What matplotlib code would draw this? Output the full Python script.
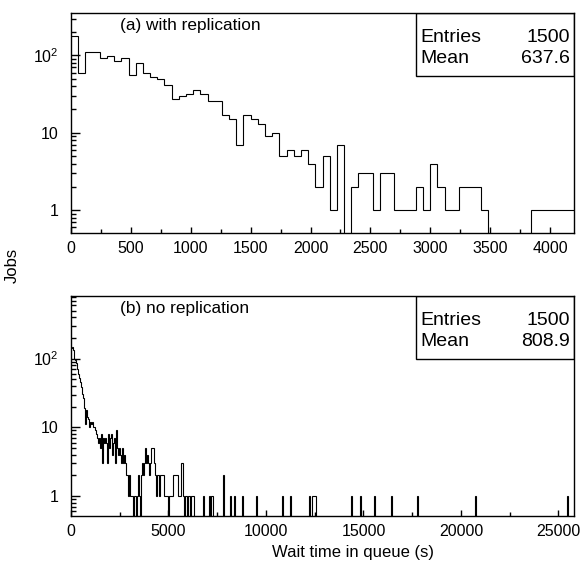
import numpy as np
import matplotlib.pyplot as plt
from matplotlib.patches import Rectangle
from matplotlib.ticker import FixedLocator, FixedFormatter, MultipleLocator, LogLocator, NullFormatter

plt.rcParams['font.family'] = ['Liberation Sans', 'DejaVu Sans']

# (a) with replication: 70 bins of 60 s, 0 .. 4200 s
a_bin_width = 60
a_counts = [180, 59, 110, 110, 92, 97, 85, 92, 56, 79,
            60, 53, 50, 41, 27, 30, 32, 36, 32, 26,
            26, 17, 15, 7, 17, 15, 13, 9, 10, 5,
            6, 5, 6, 4, 2, 5, 1, 7, 0, 2,
            3, 3, 1, 3, 3, 1, 1, 1, 2, 1,
            4, 2, 1, 1, 2, 2, 2, 1, 0, 0,
            0, 0, 0, 0, 1, 1, 1, 1, 1, 1]
a_entries = 1500
a_mean = 637.6

# (b) no replication: 500 bins of 51.6 s, 0 .. 25800 s
b_bin_width = 51.6
b_nbins = 500
# first bins, read one by one
b_head = [145, 150, 135, 100, 95, 85, 70, 60, 52, 45,
          38, 31, 27, 19, 11, 18, 14, 13, 10, 12,
          11, 12, 10, 10, 9, 8, 7, 6, 7, 5,
          8, 3, 7, 6, 7, 6, 3, 8, 5, 7,
          8, 4, 6, 7, 3, 9, 5, 4, 5, 4,
          3, 5, 3, 4, 3, 2, 2, 1, 2, 1,
          1, 1, 0, 1, 1, 0, 1, 2, 1, 0,
          2, 3, 2, 3, 5, 3, 4, 3, 2, 3,
          5, 5, 3, 2, 1, 2, 2, 1, 2, 2,
          2, 2, 1, 1, 1, 1, 0, 1, 1, 1,
          1, 2, 2, 2, 2, 2, 1, 1, 1, 3,
          3, 1, 0, 1, 1, 0, 1, 1, 0, 1,
          1, 1]
# isolated bins further out (bin index: count)
b_tail = {131: 1, 137: 1, 139: 1, 140: 1, 151: 2, 158: 1, 162: 1, 170: 1,
          184: 1, 210: 1, 218: 1, 237: 1, 240: 1, 241: 1, 242: 1, 243: 1,
          278: 1, 287: 1, 301: 1, 318: 1, 344: 1, 402: 1, 493: 1}
b_entries = 1500
b_mean = 808.9

a_edges = np.arange(len(a_counts) + 1) * a_bin_width
b_counts = np.zeros(b_nbins)
b_counts[:len(b_head)] = b_head
for k, v in b_tail.items():
    b_counts[k] = v
b_edges = np.arange(b_nbins + 1) * b_bin_width

fig = plt.figure(figsize=(5.84, 5.67), dpi=100)
ax1 = fig.add_axes([0.1216, 0.589, 0.8613, 0.388])
ax2 = fig.add_axes([0.1216, 0.0899, 0.8613, 0.388])


def draw(ax, counts, edges, ylim, label, entries, mean, major, minor):
    c = np.where(np.asarray(counts) > 0, counts, 0.01)
    ax.stairs(c, edges, baseline=None, color='black', lw=0.8)
    ax.set_yscale('log')
    ax.set_xlim(edges[0], edges[-1])
    ax.set_ylim(*ylim)
    ax.yaxis.set_major_locator(FixedLocator([1, 10, 100]))
    ax.yaxis.set_major_formatter(FixedFormatter(['1', '10', r'$\mathregular{10^{2}}$']))
    ax.yaxis.set_minor_locator(LogLocator(base=10, subs=np.arange(2, 10)))
    ax.yaxis.set_minor_formatter(NullFormatter())
    ax.xaxis.set_major_locator(MultipleLocator(major))
    ax.xaxis.set_minor_locator(MultipleLocator(minor))
    ax.tick_params(axis='both', which='both', direction='in', top=False, right=False,
                   labelsize=11.5, width=1)
    ax.tick_params(axis='y', which='major', length=6.5, pad=9)
    ax.tick_params(axis='y', which='minor', length=3.6)
    ax.tick_params(axis='x', which='major', length=4.3, pad=6)
    ax.tick_params(axis='x', which='minor', length=2.9)
    for s in ax.spines.values():
        s.set_linewidth(1)
    ax.text(0.097, 0.924, label, transform=ax.transAxes, fontsize=12.4, va='baseline')
    ax.add_patch(Rectangle((0.686, 0.713), 0.314, 0.287, transform=ax.transAxes,
                           fill=False, lw=1, color='black'))
    ax.text(0.695, 0.87, 'Entries', transform=ax.transAxes, fontsize=14, va='baseline')
    ax.text(0.992, 0.87, '%d' % entries, transform=ax.transAxes, fontsize=14,
            va='baseline', ha='right')
    ax.text(0.695, 0.775, 'Mean', transform=ax.transAxes, fontsize=14, va='baseline')
    ax.text(0.992, 0.775, '%.1f' % mean, transform=ax.transAxes, fontsize=14,
            va='baseline', ha='right')


draw(ax1, a_counts, a_edges, (0.504, 354), '(a) with replication', a_entries, a_mean, 500, 250)
draw(ax2, b_counts, b_edges, (0.51, 815), '(b) no replication', b_entries, b_mean, 5000, 2500)

fig.text(12 / 584, 1 - 265 / 567, 'Jobs', rotation=90, fontsize=12, ha='center', va='center')
fig.text(353 / 584, 1 - 553 / 567, 'Wait time in queue (s)', fontsize=12, ha='center', va='center')

fig.savefig('out.png', dpi=100)
